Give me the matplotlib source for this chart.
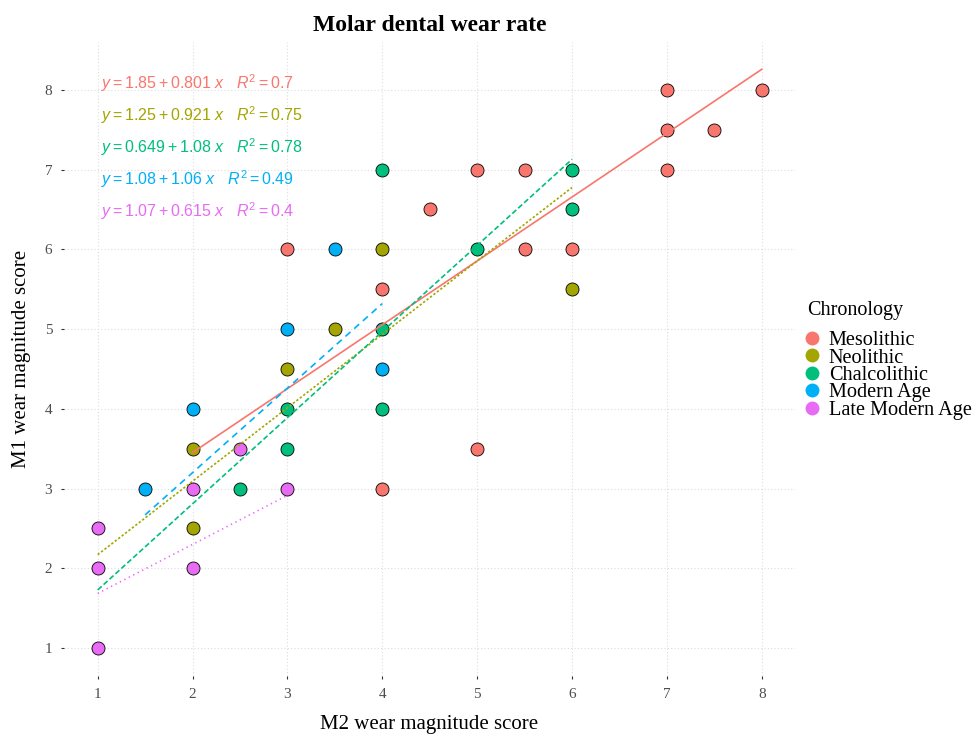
import matplotlib
matplotlib.use("Agg")
import matplotlib.pyplot as plt
from matplotlib.lines import Line2D
import numpy as np

# ---- data ----
groups = ["Mesolithic", "Neolithic", "Chalcolithic", "Modern Age", "Late Modern Age"]
colors = ["#F8766D", "#A3A500", "#00BF7D", "#00B0F6", "#E76BF3"]

meso_x = [8, 7, 7, 7.5, 7, 5, 5.5, 4.5, 3, 5.5, 6, 4, 5, 4]
meso_y = [8, 8, 7.5, 7.5, 7, 7, 7, 6.5, 6, 6, 6, 5.5, 3.5, 3]
neo_x = [4, 6, 3.5, 3, 2, 2]
neo_y = [6, 5.5, 5, 4.5, 3.5, 2.5]
chal_x = [4, 6, 6, 5, 4, 3, 4, 3, 2.5]
chal_y = [7, 7, 6.5, 6, 5, 4, 4, 3.5, 3]
mod_x = [3.5, 3, 4, 2, 1.5]
mod_y = [6, 5, 4.5, 4, 3]
late_x = [2.5, 2, 3, 1, 1, 2, 1]
late_y = [3.5, 3, 3, 2.5, 2, 2, 1]

# regression coefficients (intercept, slope, R2) as printed, and x-range of each fit
intercepts = [1.85, 1.25, 0.649, 1.08, 1.07]
slopes = [0.801, 0.921, 1.08, 1.06, 0.615]
r2 = ["0.7", "0.75", "0.78", "0.49", "0.4"]
intercept_txt = ["1.85", "1.25", "0.649", "1.08", "1.07"]
slope_txt = ["0.801", "0.921", "1.08", "1.06", "0.615"]
fit_xmin = [2, 1, 1, 1.5, 1]
fit_xmax = [8, 6, 6, 4, 3]

xticks = [1, 2, 3, 4, 5, 6, 7, 8]
yticks = [1, 2, 3, 4, 5, 6, 7, 8]

xs = [meso_x, neo_x, chal_x, mod_x, late_x]
ys = [meso_y, neo_y, chal_y, mod_y, late_y]

# ---- style ----
plt.rcParams["font.family"] = ["Liberation Serif", "DejaVu Serif"]
plt.rcParams["mathtext.fontset"] = "custom"
plt.rcParams["mathtext.rm"] = "Liberation Sans"
plt.rcParams["mathtext.it"] = "Liberation Sans:italic"
plt.rcParams["mathtext.bf"] = "Liberation Sans:bold"

fig = plt.figure(figsize=(9.76, 7.34), dpi=100)
ax = fig.add_axes([64 / 976, 1 - 676 / 734, (795 - 64) / 976, (676 - 42) / 734])

ax.set_xlim(0.645, 8.35)
ax.set_ylim(0.65, 8.6)

for s in ax.spines.values():
    s.set_visible(False)
ax.set_xticks(xticks)
ax.set_yticks(yticks)
ax.grid(True, which="major", color="#DDDDDD", linestyle=(0, (1, 2)), linewidth=0.8)
ax.set_axisbelow(True)
ax.tick_params(axis="both", length=2.5, width=0.8, color="#333333",
               labelcolor="#4D4D4D", labelsize=11, pad=6)

# points
for gx, gy, c in zip(xs, ys, colors):
    ax.scatter(gx, gy, s=88, c=c, edgecolors="black", linewidths=0.6, zorder=3)

# fit lines
styles = ["-", (0, (1.4, 1.2)), (0, (3.2, 1.6)), (0, (4, 3)), (0, (0.8, 2.2))]
for i in range(5):
    lx = np.array([fit_xmin[i], fit_xmax[i]])
    ly = intercepts[i] + slopes[i] * lx
    ax.plot(lx, ly, color=colors[i], linestyle=styles[i], linewidth=1.2, zorder=4)

# equation labels
label_y = [8.088, 7.686, 7.285, 6.883, 6.482]
for i in range(5):
    txt = (r"$\it{y} = " + intercept_txt[i] + r" + " + slope_txt[i] +
           r"\ \it{x}\ \ \ \it{R}^2 = " + r2[i] + r"$")
    ax.text(1.04, label_y[i], txt, color=colors[i], fontsize=11.5,
            ha="left", va="center", zorder=5)

ax.set_title("Molar dental wear rate", fontsize=17, fontweight="bold", pad=8,
             color="black")
ax.set_xlabel("M2 wear magnitude score", fontsize=15, labelpad=10)
ax.set_ylabel("M1 wear magnitude score", fontsize=15, labelpad=10)

fig.text(807 / 976, 1 - 310 / 734, "Chronology", fontsize=14.5,
         ha="left", va="center")
handles = [Line2D([], [], marker="o", linestyle="none", markersize=10,
                  markerfacecolor=c, markeredgecolor="none") for c in colors]
leg = ax.legend(handles, groups, loc="upper left",
                bbox_to_anchor=(800 / 976, 1 - 331 / 734),
                bbox_transform=fig.transFigure, frameon=False,
                fontsize=14.6, labelspacing=-0.09, handletextpad=0.22,
                handlelength=1.2, borderaxespad=0, borderpad=0)

fig.savefig("out.png", dpi=100, facecolor="white")
